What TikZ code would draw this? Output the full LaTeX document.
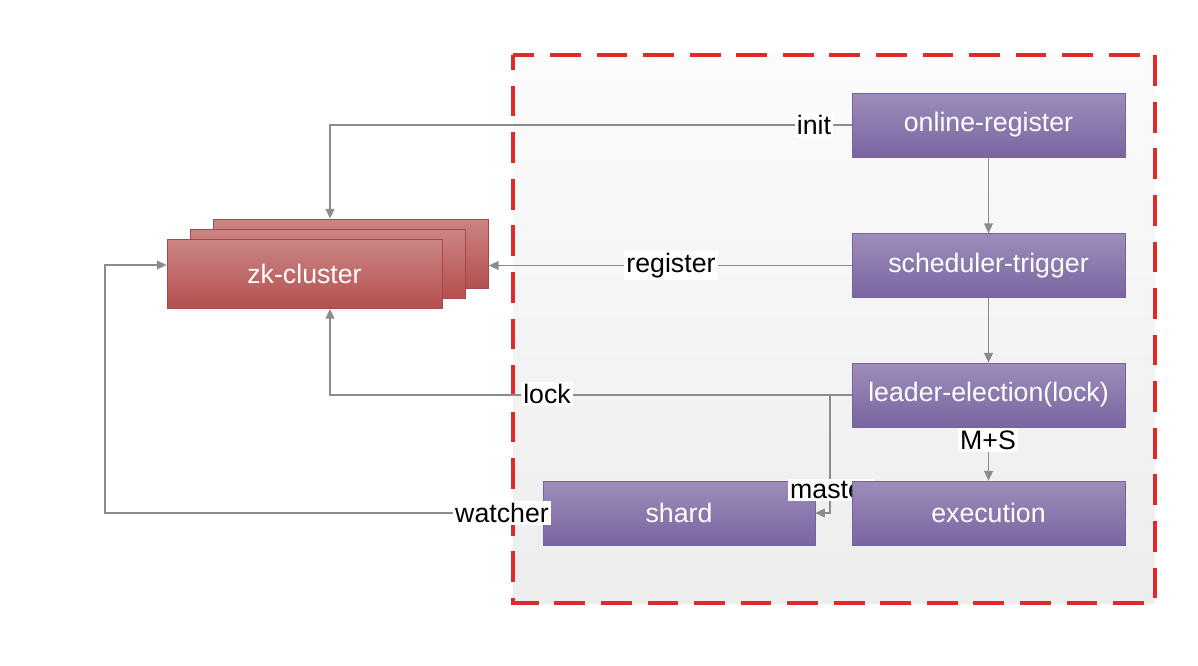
\documentclass[tikz,border=0pt]{standalone}
\usepackage{fontspec}
\setmainfont{Liberation Sans}
\usetikzlibrary{arrows.meta,calc}
\definecolor{purtop}{HTML}{9C8DBA}
\definecolor{purbot}{HTML}{7A65A1}
\definecolor{purdraw}{HTML}{7563A0}
\definecolor{redtop}{HTML}{CC8484}
\definecolor{redbot}{HTML}{B45050}
\definecolor{reddraw}{HTML}{A84848}
\definecolor{dashred}{HTML}{E02A2A}
\definecolor{linegray}{HTML}{8C8C8C}
\tikzset{
  pbox/.style={rectangle, top color=purtop, bottom color=purbot, draw=purdraw, line width=0.4pt,
    minimum width=5.46cm, minimum height=1.28cm, text=white, inner sep=0pt,
    font=\fontsize{15.2}{18}\selectfont},
  zbox/.style={rectangle, top color=redtop, bottom color=redbot, draw=reddraw, line width=0.5pt,
    minimum width=5.5cm, minimum height=1.38cm, text=white, inner sep=0pt,
    font=\fontsize{15.2}{18}\selectfont},
  conn/.style={draw=linegray, line width=0.7pt, -{Triangle[length=5.5pt,width=5pt]}},
  lbl/.style={fill=white, text=black, inner sep=1.2pt, font=\fontsize{15.2}{18}\selectfont},
}
\begin{document}
\begin{tikzpicture}[x=0.02cm,y=-0.02cm]
\useasboundingbox (0,0) rectangle (1198,666);
% dashed region
\shade[top color=white!97!gray, bottom color=black!7] (513,55) rectangle (1155,603);
\draw[dashred, line width=1.8pt, dash pattern=on 17.5pt off 9pt, dash phase=9pt] (513,55) rectangle (1155,603);
% helper coordinates
\coordinate (zkx) at (330,0);
\coordinate (mx) at (830,0);
\coordinate (wx) at (105,265);
% nodes
\node[pbox] (or) at (988.5,125) {online-register};
\node[pbox] (st) at (988.5,265.5) {scheduler-trigger};
\node[pbox] (le) at (988.5,395) {leader-election(lock)};
\node[zbox] (back) at (351,253.5) {};
\node[zbox] (mid) at (327.5,263.5) {};
\node[zbox] (front) at (304.5,274) {zk-cluster};
\node[pbox, minimum width=5.44cm] (shard) at (679,513) {shard};
\path (988.5,513) coordinate (excenter);
% connectors
\draw[conn] (or.west) -| (back.north -| zkx);
\draw[conn] (st.west) -- (st.west -| back.east);
\draw[conn] (le.west) -| (front.south -| zkx);
\draw[conn] (or.south) -- (st.north);
\draw[conn] (st.south) -- (le.north);
\draw[conn] (le.west -| mx) |- (shard.east);
\draw[conn] (shard.west) -| (wx) -- (wx -| front.west);
% master label sits under the execution box
\node[lbl] (lmaster) at (831,490) {master};
\node[pbox] (ex) at (excenter) {execution};
\draw[conn] (le.south) -- (ex.north);
% labels
\node[lbl] (linit) at (814,125) {init};
\node[lbl] (lreg) at (671,265.5) {register};
\node[lbl] (llock) at (547,394) {lock};
\node[lbl] (lwatch) at (502,513) {watcher};
\node[lbl] (lms) at (988,440) {M+S};
\end{tikzpicture}
\end{document}
